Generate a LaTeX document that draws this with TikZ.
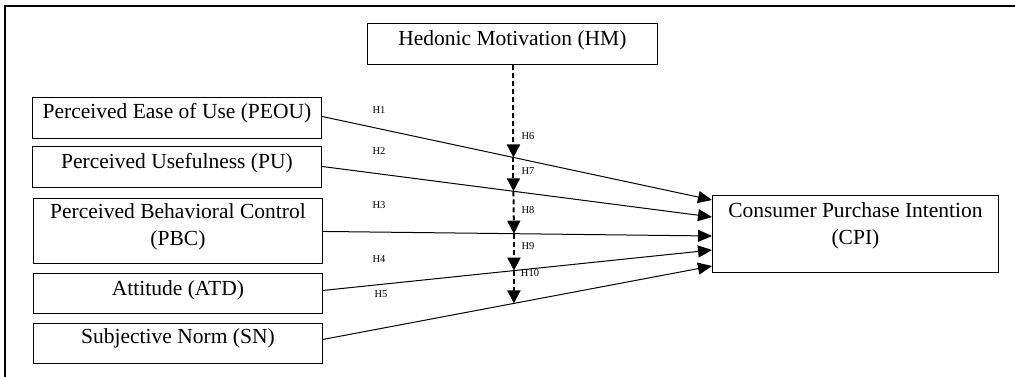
\documentclass[tikz,border=0pt]{standalone}
\usepackage{fontspec}
\setmainfont{Liberation Serif}
\usetikzlibrary{arrows.meta,positioning}
\begin{document}
\begin{tikzpicture}[x=1pt,y=-1pt,
  box/.style={draw, line width=0.9pt, inner sep=0pt, anchor=north west, align=center,
    font=\fontsize{21.5}{27}\selectfont},
  hlab/.style={inner sep=0pt, font=\fontsize{10.5}{12}\selectfont},
  conn/.style={line width=1pt, -{Triangle[length=14pt,width=12pt]}},
  moder/.style={line width=2pt, dash pattern=on 5pt off 3pt, -{Triangle[length=13pt,width=13pt]}}
]
\useasboundingbox (0,0) rectangle (1015,377);
% frame
\draw[line width=2pt] (5,377) -- (5,6) -- (1015,6);
% boxes
\node[box, minimum width=290pt] (hm) at (367,23) {\rule{0pt}{22pt}Hedonic Motivation (HM)\rule[-19pt]{0pt}{19pt}};
\node[box, minimum width=289pt] (peou) at (32,97) {\rule{0pt}{21pt}Perceived Ease of Use (PEOU)\rule[-20pt]{0pt}{20pt}};
\node[box, minimum width=289pt] (pu) at (32,146) {\rule{0pt}{22pt}Perceived Usefulness (PU)\rule[-19pt]{0pt}{19pt}};
\node[box, minimum width=289pt] (pbc) at (33,198) {\rule{0pt}{20pt}Perceived Behavioral Control\\(PBC)\rule[-18pt]{0pt}{18pt}};
\node[box, minimum width=289pt] (atd) at (33,273) {\rule{0pt}{22pt}Attitude (ATD)\rule[-18pt]{0pt}{18pt}};
\node[box, minimum width=289pt] (sn) at (33,323) {\rule{0pt}{20pt}Subjective Norm (SN)\rule[-20pt]{0pt}{20pt}};
\node[box, minimum width=286pt] (cpi) at (712,195) {\rule{0pt}{22pt}Consumer Purchase Intention\\(CPI)\rule[-28pt]{0pt}{28pt}};
% end points on CPI
\coordinate (e1) at ([yshift=-5pt]cpi.north west);
\coordinate (e2) at ([yshift=-22pt]cpi.north west);
\coordinate (e3) at ([yshift=-41pt]cpi.north west);
\coordinate (e4) at ([yshift=-55pt]cpi.north west);
\coordinate (e5) at ([yshift=-71pt]cpi.north west);
% connectors
\draw[conn] ([yshift=1.5pt]peou.east) -- coordinate[pos=0.491] (m1) (e1);
\draw[conn] ([yshift=0.5pt]pu.east) -- coordinate[pos=0.491] (m2) (e2);
\draw[conn] ([yshift=-0.5pt]pbc.east) -- coordinate[pos=0.491] (m3) (e3);
\draw[conn] ([yshift=3pt]atd.east) -- coordinate[pos=0.491] (m4) (e4);
\draw[conn] ([yshift=4pt]sn.east) -- coordinate[pos=0.491] (m5) (e5);
% moderating dashed arrows
\draw[moder] (hm.south -| m1) -- (m1);
\draw[moder] (m1) -- (m2);
\draw[moder] (m2) -- (m3);
\draw[moder] (m3) -- (m4);
\draw[moder] (m4) -- (m5);
% labels
\node[hlab] (h1) at (379,110) {H1};
\node[hlab] (h2) at (379,151) {H2};
\node[hlab] (h3) at (379,205) {H3};
\node[hlab] (h4) at (379,259) {H4};
\node[hlab] (h5) at (381,294) {H5};
\node[hlab] (h6) at (528,136) {H6};
\node[hlab] (h7) at (528,171) {H7};
\node[hlab] (h8) at (528,210) {H8};
\node[hlab] (h9) at (528,246) {H9};
\node[hlab] (h10) at (530,273) {H10};
\end{tikzpicture}
\end{document}
